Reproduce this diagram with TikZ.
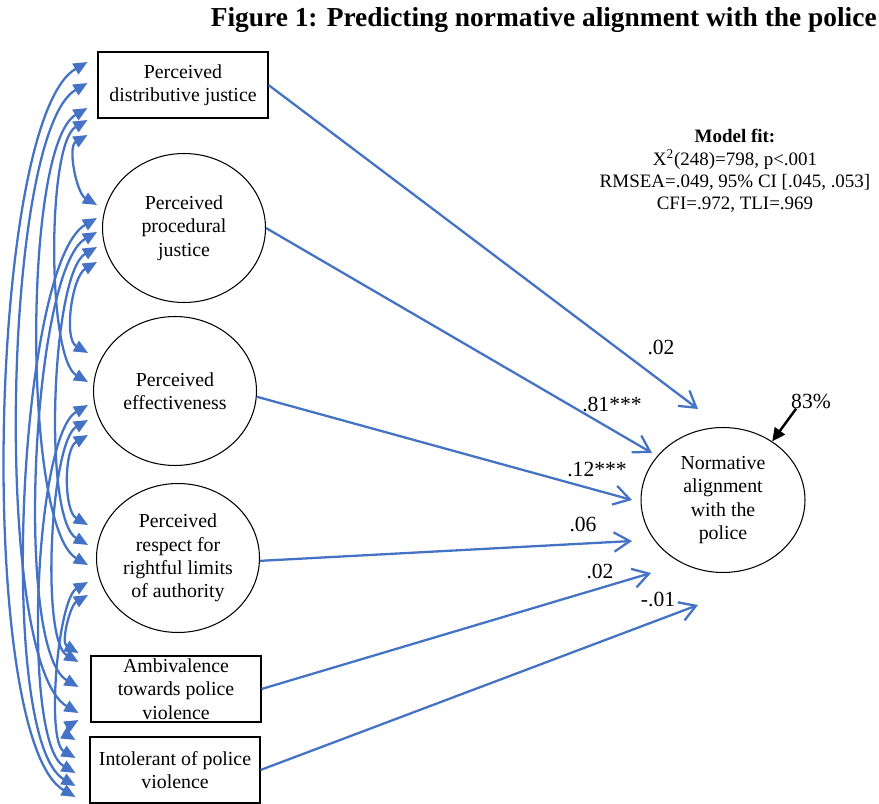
\documentclass[tikz,border=0pt]{standalone}
\usepackage{fontspec}
\setmainfont{Liberation Serif}
\usetikzlibrary{arrows.meta,shapes.geometric}
\definecolor{pathblue}{RGB}{68,114,196}
\tikzset{
  var/.style={draw,line width=0.6pt,align=center,
              font=\fontsize{11.3}{13.3}\selectfont},
  obs/.style={var,rectangle,inner sep=1pt,minimum width=3.4cm,
              minimum height=1.32cm},
  lat/.style={var,ellipse,inner sep=0pt,minimum width=3.26cm,
              minimum height=2.98cm},
  est/.style={font=\fontsize{12.3}{14}\selectfont,inner sep=0pt},
  ttl/.style={font=\bfseries\fontsize{15.6}{18}\selectfont,inner sep=0pt},
  reg/.style={draw=pathblue,line width=1.3pt,
              -{Straight Barb[length=9pt,width=11pt]}},
  cov/.style={draw=pathblue,line width=1.3pt,
              {Triangle[length=8pt,width=6.8pt]}-{Triangle[length=8pt,width=6.8pt]}},
  res/.style={draw=black,line width=1.4pt,-{Triangle[length=7.5pt,width=7pt]}},
}

\begin{document}
\begin{tikzpicture}[x=0.02cm, y=0.02cm]
  \useasboundingbox (0,0) rectangle (879,-804);
  \node[ttl, anchor=east] (title) at (877,-20)
    {Figure 1: Predicting normative alignment with the police};

  % predictors
  \node[obs] (dj) at (183,-85) {Perceived\\distributive justice};
  \node[lat] (pj) at (184,-228) {Perceived\\procedural\\justice};
  \node[lat] (ef) at (175,-391) {Perceived\\effectiveness};
  \node[lat] (rl) at (178,-558) {Perceived\\respect for\\rightful limits\\of authority};
  \node[obs] (av) at (176,-689) {Ambivalence\\towards police\\violence};
  \node[obs] (it) at (175,-770) {Intolerant of police\\violence};

  % outcome
  \node[lat, minimum width=3.28cm, minimum height=2.9cm] (na) at (723,-500)
    {Normative\\alignment\\with the\\police};
  \node[align=center, font=\fontsize{10.8}{12.7}\selectfont] (fit) at (735,-171)
    {\textbf{Model fit:}\\X\textsuperscript{2}(248)=798, p<.001\\
     RMSEA=.049, 95\% CI [.045, .053]\\CFI=.972, TLI=.969};

  % covariances between predictors
  \foreach \a/\xa/\ya/\b/\xb/\yb/\l in {
      dj/-10/23/it/-14/-27/0.40,  dj/-10/2/av/-12/-24/0.40,
      dj/-10/-23/rl/-8/-7/0.42,   dj/-10/-35/ef/-5/9/0.46,
      dj/-10/-50/pj/-5/23/0.85,   pj/-5/10/it/-14/-16/0.41,
      pj/-5/-4/av/-12/2/0.42,     pj/-5/-19/rl/-8/13/0.45,
      pj/-5/-34/ef/-5/38/0.80,    ef/-5/-14/it/-14/-3/0.43,
      ef/-5/-29/av/-12/27/0.46,   ef/-5/-44/rl/-8/33/0.80,
      rl/-8/-24/it/-14/12/0.50,   rl/-8/-37/av/-12/36/0.90,
      av/-12/-31/it/-14/30/1.40}
    \draw[cov] ([shift={(\xa,\ya)}]\a.west) to[out=210, in=150, looseness=\l]
               ([shift={(\xb,\yb)}]\b.west);

  % paths to the outcome
  \coordinate (t-dj) at (698,-409);
  \coordinate (t-pj) at (652,-453);
  \coordinate (t-ef) at (632,-500);
  \coordinate (t-rl) at (632,-541);
  \coordinate (t-av) at (651,-573);
  \coordinate (t-it) at (698,-605);
  \foreach \n/\an in {dj/east,pj/east,ef/-4,rl/-2,av/east,it/east}
    \draw[reg] (\n.\an) -- (t-\n);

  \node[est] (b-dj) at (661,-347) {.02};
  \node[est] (b-pj) at (612,-404) {.81***};
  \node[est] (b-ef) at (597,-469) {.12***};
  \node[est] (b-rl) at (583,-524) {.06};
  \node[est] (b-av) at (600,-571) {.02};
  \node[est] (b-it) at (658,-599) {-.01};

  % residual
  \node[est] (r2) at (811,-401) {83\%};
  \draw[res] ([xshift=3pt]r2.south west) -- (na.50);
\end{tikzpicture}
\end{document}
